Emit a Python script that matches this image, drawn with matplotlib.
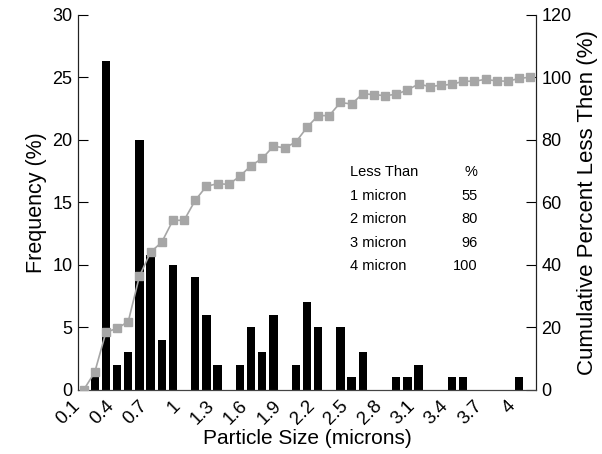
"""
Particle size distribution: frequency bars + cumulative percent line.
"""

import matplotlib
matplotlib.use('Agg')
import matplotlib.pyplot as plt
import numpy as np

plt.rcParams['font.family'] = ['Liberation Sans', 'DejaVu Sans']

BLACK = '#000000'
GREY = '#a6a6a6'

# particle sizes (microns), one category per 0.1
sizes = ['0.1', '0.2', '0.3', '0.4', '0.5', '0.6', '0.7', '0.8', '0.9', '1',
         '1.1', '1.2', '1.3', '1.4', '1.5', '1.6', '1.7', '1.8', '1.9', '2',
         '2.1', '2.2', '2.3', '2.4', '2.5', '2.6', '2.7', '2.8', '2.9', '3',
         '3.1', '3.2', '3.3', '3.4', '3.5', '3.6', '3.7', '3.8', '3.9', '4',
         '4.1']

# frequency (%)
freq = [0, 1, 26.3, 2, 3, 20, 10.8, 4, 10, 0,
        9, 6, 2, 0, 2, 5, 3, 6, 0, 2,
        7, 5, 0, 5, 1, 3, 0, 0, 1, 1,
        2, 0, 0, 1, 1, 0, 0, 0, 0, 1,
        0]

# cumulative percent less than
cumul = [0, 5.7, 18.5, 19.7, 21.9, 36.4, 44.1, 47.3, 54.3, 54.3,
         60.7, 65.2, 66.0, 65.8, 68.4, 71.8, 74.1, 78.0, 77.5, 79.3,
         84.0, 87.8, 87.8, 92.0, 91.5, 94.8, 94.5, 94.2, 94.6, 96.0,
         97.9, 97.1, 97.5, 97.8, 98.8, 98.8, 99.4, 98.9, 98.8, 99.7,
         100.1]

# summary table
tbl_rows = ['Less Than', '1 micron', '2 micron', '3 micron', '4 micron']
tbl_vals = ['%', '55', '80', '96', '100']

x = np.arange(len(sizes))

fig = plt.figure(figsize=(6.02, 4.54), dpi=100)
ax1 = fig.add_axes([0.1296, 0.141, 0.7604, 0.826])
ax2 = ax1.twinx()

ax1.bar(x, freq, width=0.75, color=BLACK, zorder=2)
ax2.plot(x, cumul, color=GREY, lw=1.2, marker='s', ms=6.3, mec=GREY, mfc=GREY, zorder=3)

ax1.set_xticks(x[::3])
# va='bottom' + bigger pad pushes the rotated labels a little to the left
ax1.set_xticklabels(sizes[::3], rotation=45, ha='right', va='bottom',
                    rotation_mode='anchor', fontsize=13.5)
ax1.set_xlim(-0.5, len(sizes) - 0.5)
ax1.set_ylim(0, 30)
ax2.set_ylim(0, 120)
ax1.set_yticks(range(0, 31, 5))
ax2.set_yticks(range(0, 121, 20))

ax1.tick_params(axis='x', length=0, pad=14)
ax1.tick_params(axis='y', direction='in', length=7, labelsize=13, pad=4)
ax2.tick_params(axis='y', direction='in', length=7, labelsize=13, pad=4)

for a in (ax1, ax2):
    a.spines['top'].set_visible(False)
    a.spines['left'].set_color('#222222')
    a.spines['right'].set_color('#222222')
    a.spines['bottom'].set_color('#444444')

ax1.set_xlabel('Particle Size (microns)', fontsize=15, labelpad=1)
ax1.set_ylabel('Frequency (%)', fontsize=15.5, labelpad=4)
ax2.set_ylabel('Cumulative Percent Less Then (%)', fontsize=16, labelpad=4)

# table of cumulative values
for i, (r, v) in enumerate(zip(tbl_rows, tbl_vals)):
    yy = 0.58 - i * 0.0625
    ax1.text(0.595, yy, r, transform=ax1.transAxes, fontsize=10.5, va='center', ha='left')
    ax1.text(0.873, yy, v, transform=ax1.transAxes, fontsize=10.5, va='center', ha='right')

fig.savefig('out.png', dpi=100)
